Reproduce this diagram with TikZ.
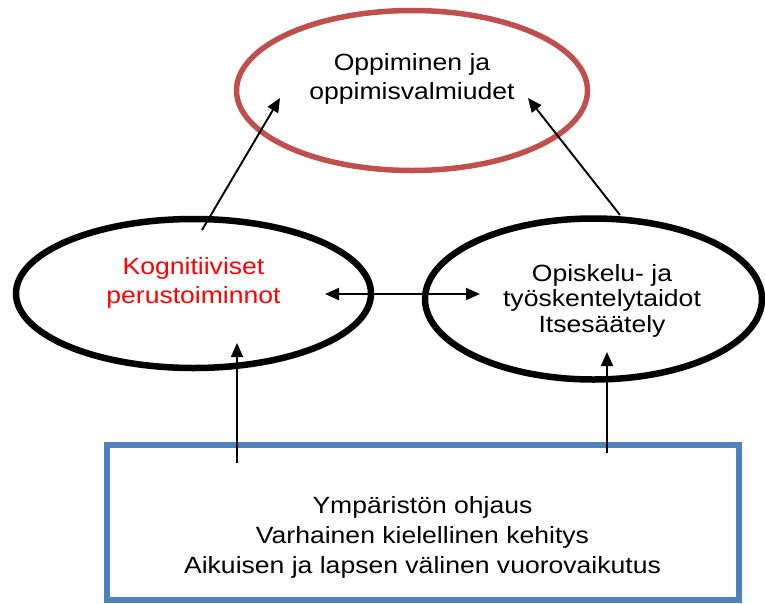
\documentclass[tikz,border=0pt]{standalone}
\usepackage{fontspec}
\setmainfont[FakeStretch=1.13]{Liberation Sans}
\usetikzlibrary{shapes.geometric,arrows.meta}
\definecolor{ringred}{HTML}{C0504D}
\definecolor{boxblue}{HTML}{4F81BD}
\definecolor{textred}{HTML}{FF0000}
\tikzset{
  oval/.style={ellipse, draw, inner sep=0pt, line width=6.5pt},
  txt/.style={inner sep=0pt, anchor=base, font=\fontsize{23.5}{28}\selectfont},
  link/.style={line width=1.9pt, -{Triangle[length=14pt,width=12pt]}},
  twoway/.style={line width=1.9pt, {Triangle[length=14pt,width=12pt]}-{Triangle[length=14pt,width=12pt]}},
}
\begin{document}
\begin{tikzpicture}[x=1pt,y=-1pt]
\useasboundingbox (0,0) rectangle (765,603);

% the three ovals and the environment box
\node[oval, draw=ringred, line width=5.5pt, minimum width=351pt, minimum height=160pt] (learn) at (412,90.5) {};
\node[oval, minimum width=355pt, minimum height=149pt] (cogn) at (193.5,293.5) {};
\node[oval, minimum width=337pt, minimum height=161pt] (study) at (593.5,299) {};
\node[draw=boxblue, line width=6pt, inner sep=0pt, minimum width=632pt, minimum height=155pt] (env) at (422.5,522.5) {};

% labels
\node[txt] (learn1) at (412,70.5) {Oppiminen ja};
\node[txt] (learn2) at (412,99.5) {oppimisvalmiudet};
\node[txt, text=textred] (cogn1) at (193.5,274) {Kognitiiviset};
\node[txt, text=textred] (cogn2) at (193.5,303.5) {perustoiminnot};
\node[txt] (study1) at (602,281) {Opiskelu- ja};
\node[txt] (study2) at (602,306.5) {työskentelytaidot};
\node[txt] (study3) at (602,332.5) {Itsesäätely};
\node[txt] (env1) at (422.5,513) {Ympäristön ohjaus};
\node[txt] (env2) at (422.5,543.3) {Varhainen kielellinen kehitys};
\node[txt] (env3) at (422.5,573.3) {Aikuisen ja lapsen välinen vuorovaikutus};

% connector end points inside the shapes
\coordinate (cognUp) at (202,230);
\coordinate (learnL) at (280,98);
\coordinate (studyUp) at (620,215);
\coordinate (learnR) at (528,98);
\coordinate (cognR) at (325,294);
\coordinate (studyL) at (480,294);
\coordinate (envL) at (237,463);
\coordinate (cognDown) at (237,343);
\coordinate (envR) at (607,453);
\coordinate (studyDown) at (607,352);

% connectors
\draw[link] (cognUp) -- (learnL);
\draw[link] (studyUp) -- (learnR);
\draw[twoway] (cognR) -- (studyL);
\draw[link] (envL) -- (cognDown);
\draw[link] (envR) -- (studyDown);
\end{tikzpicture}
\end{document}
